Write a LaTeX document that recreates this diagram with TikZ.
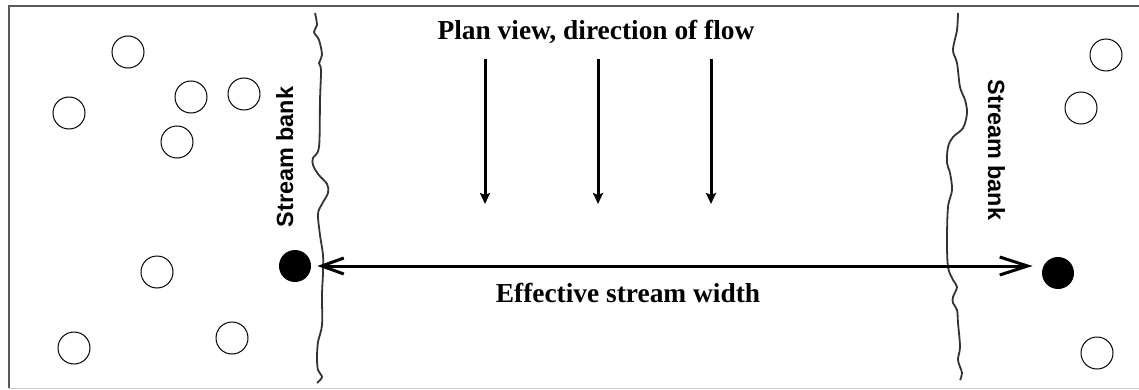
\documentclass[tikz,border=0pt]{standalone}
\usepackage{fontspec}
\setmainfont{Liberation Serif}
\setsansfont{Liberation Sans}
\usetikzlibrary{arrows.meta, calc}

\begin{document}
\begin{tikzpicture}[
  x=0.5pt, y=-0.5pt,
  stone/.style={draw, circle, line width=0.5pt, minimum size=16pt, inner sep=0pt},
  peg/.style={fill, circle, minimum size=16pt, inner sep=0pt},
  bank/.style={line width=0.9pt, draw=black!80, smooth, tension=0.55},
  flow/.style={-{Stealth[length=5.5pt, width=5pt, inset=1pt]}, line width=1.5pt},
  widtharr/.style={{Straight Barb[length=11pt, width=8pt]}-{Straight Barb[length=14pt, width=9pt]},
                   line width=1.5pt},
  banklbl/.style={font=\sffamily\bfseries\fontsize{11.7}{14}\selectfont, inner sep=0pt},
  heading/.style={font=\bfseries\fontsize{13.7}{16}\selectfont, inner sep=0pt},
]
\useasboundingbox (0,0) rectangle (1139,390);

%% ---- Frame ----
\draw[line width=1pt, gray!70!black] (1139,6) -- (9,6) -- (9,388);
\draw[line width=0.5pt, gray!40] (9,388) -- (1139,388);

%% ---- Stream banks ----
\draw[bank] plot coordinates {(315,13) (317,25) (314,32) (319,40) (322,55) (319,63)
  (321,70) (320,100) (319,147) (313,158) (313,165) (318,174) (327,184) (328,193)
  (322,204) (318,214) (320,235) (323,255) (323,273) (322,295) (322,325) (318,342)
  (317,358) (318,370) (322,377) (317,383)};
\draw[bank] plot coordinates {(958,13) (957,30) (953,50) (957,63) (960,87) (965,100)
  (967,113) (963,128) (953,137) (948,147) (947,163) (950,173) (952,190) (948,207)
  (947,240) (948,267) (953,280) (957,287) (953,297) (953,303) (957,310) (958,323)
  (960,347) (958,360) (962,373) (960,380)};

\node[banklbl, rotate=90, anchor=base] (lbank) at (293,157) {Stream bank};
\node[banklbl, rotate=-90, anchor=base] (rbank) at (988,150) {Stream bank};

%% ---- Stones outside the banks ----
\node[stone] (s1) at (128,52) {};
\node[stone] (s2) at (69,113) {};
\node[stone] (s3) at (191,97) {};
\node[stone] (s4) at (244,94) {};
\node[stone] (s5) at (177,142) {};
\node[stone] (s6) at (157,272) {};
\node[stone] (s7) at (74,348) {};
\node[stone] (s8) at (232,338) {};
\node[stone] (s9) at (1106,55) {};
\node[stone] (s10) at (1081,108) {};
\node[stone] (s11) at (1097,353) {};

%% ---- Direction of flow ----
\node[heading, anchor=base] (plan) at (596,40) {Plan view, direction of flow};

\coordinate (f1a) at (485,59);  \coordinate (f1b) at (485,204);
\coordinate (f2a) at (598,59);  \coordinate (f2b) at (598,204);
\coordinate (f3a) at (711,59);  \coordinate (f3b) at (711,204);
\draw[flow] (f1a) -- (f1b);
\draw[flow] (f2a) -- (f2b);
\draw[flow] (f3a) -- (f3b);

%% ---- Effective width ----
\node[peg] (ldot) at (295,266) {};
\node[peg] (rdot) at (1058,273) {};

\draw[widtharr, shorten <=3pt, shorten >=4.5pt] (ldot.east) -- (ldot.east -| rdot.west);

\node[heading, anchor=base] (wlabel) at (628,302) {Effective stream width};

\end{tikzpicture}
\end{document}
